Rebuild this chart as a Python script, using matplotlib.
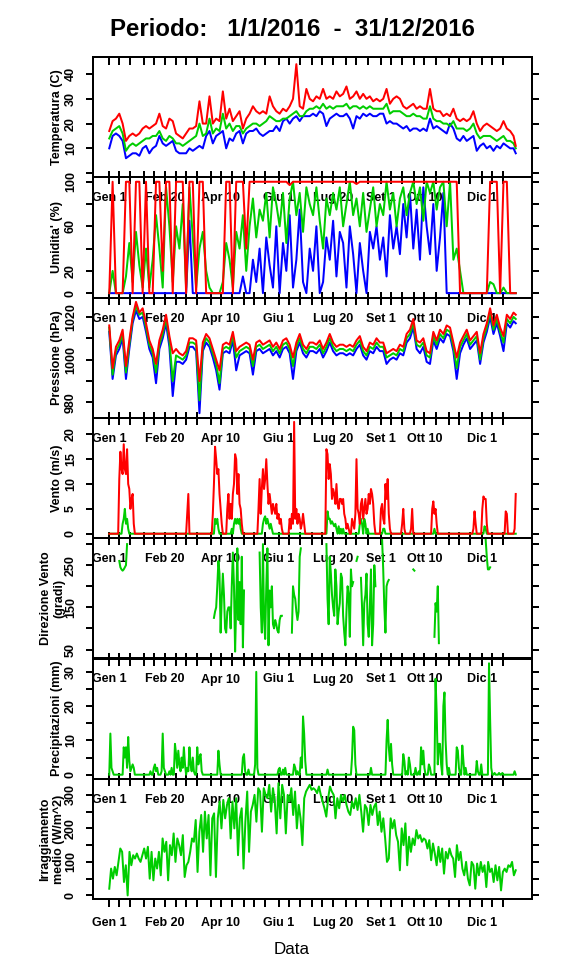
import numpy as np
import matplotlib
matplotlib.use('Agg')
import matplotlib.pyplot as plt

# ---------------- data (2016, day of year) ----------------
days3 = np.append(np.arange(1, 365, 3), 366)   # readings every 3 days
all_days = np.arange(1, 367)

temp_max = [17, 21, 22, 24, 20, 13, 15, 16, 15, 16,
            18, 19, 18, 19, 20, 24, 19, 18, 22, 21,
            16, 15, 14, 16, 18, 18, 19, 29, 20, 20,
            31, 20, 22, 21, 33, 22, 26, 21, 23, 25,
            18, 22, 24, 27, 25, 24, 25, 24, 31, 27,
            25, 24, 26, 25, 27, 30, 44, 27, 26, 34,
            30, 29, 31, 30, 34, 30, 31, 30, 33, 31,
            32, 35, 30, 31, 33, 30, 32, 30, 31, 29,
            30, 29, 30, 34, 28, 30, 31, 30, 27, 26,
            27, 28, 26, 27, 26, 26, 34, 26, 25, 25,
            23, 24, 23, 26, 22, 21, 22, 21, 22, 25,
            20, 17, 19, 20, 19, 18, 17, 18, 21, 18,
            17, 15, 11]
temp_mean = [14, 17, 18, 19, 16, 9, 11, 12, 11, 12,
             13, 14, 14, 15, 15, 17, 14, 13, 15, 14,
             12, 12, 11, 12, 13, 14, 15, 20, 15, 16,
             22, 16, 18, 17, 24, 18, 20, 17, 19, 19,
             16, 18, 19, 20, 20, 19, 20, 21, 23, 22,
             21, 21, 22, 22, 23, 24, 25, 23, 23, 25,
             26, 26, 27, 26, 28, 26, 27, 26, 27, 27,
             27, 28, 26, 27, 27, 26, 27, 26, 27, 26,
             26, 26, 26, 28, 24, 25, 25, 25, 24, 23,
             23, 24, 23, 23, 22, 22, 27, 22, 21, 21,
             20, 20, 19, 21, 18, 18, 18, 17, 18, 20,
             16, 14, 15, 15, 15, 14, 13, 14, 15, 13,
             13, 12, 10]
temp_min = [10, 15, 16, 15, 13, 6, 7, 8, 8, 7,
            10, 11, 8, 10, 11, 15, 12, 11, 12, 13,
            9, 8, 8, 8, 10, 9, 10, 11, 10, 15,
            17, 12, 15, 16, 17, 10, 14, 13, 16, 17,
            12, 16, 17, 17, 18, 16, 15, 16, 17, 17,
            19, 17, 21, 22, 20, 22, 23, 21, 23, 23,
            23, 24, 23, 25, 24, 19, 22, 23, 24, 23,
            23, 24, 22, 18, 23, 22, 24, 23, 24, 23,
            23, 24, 24, 20, 21, 20, 20, 19, 18, 19,
            17, 18, 18, 17, 18, 17, 22, 18, 19, 18,
            17, 16, 20, 18, 14, 13, 15, 13, 14, 15,
            9, 11, 12, 10, 11, 9, 11, 10, 12, 11,
            10, 10, 8]

hum_max = [0, 100, 0, 0, 0, 100, 100, 0, 100, 100,
           0, 100, 0, 0, 100, 100, 20, 100, 100, 0,
           100, 100, 100, 0, 100, 100, 0, 100, 100, 0,
           0, 0, 0, 0, 0, 100, 100, 0, 100, 100,
           100, 40, 100, 100, 100, 100, 100, 100, 100, 100,
           100, 100, 100, 100, 97, 100, 100, 100, 100, 100,
           100, 100, 100, 100, 100, 100, 100, 100, 100, 100,
           100, 100, 100, 100, 98, 100, 100, 100, 100, 100,
           100, 100, 100, 100, 100, 100, 100, 100, 100, 100,
           100, 100, 100, 100, 100, 100, 100, 100, 100, 100,
           100, 100, 100, 100, 100, 0, 0, 0, 0, 0,
           0, 0, 0, 0, 100, 100, 100, 0, 100, 100,
           0, 0, 0]
hum_mean = [0, 20, 0, 0, 0, 15, 45, 10, 55, 25,
            5, 40, 5, 30, 70, 40, 5, 95, 60, 10,
            60, 40, 80, 5, 95, 50, 5, 40, 55, 20,
            5, 0, 0, 0, 10, 45, 30, 5, 55, 40,
            70, 20, 60, 85, 50, 75, 65, 90, 50, 95,
            80, 60, 90, 45, 85, 100, 70, 90, 55, 95,
            80, 70, 95, 65, 40, 85, 70, 90, 75, 95,
            60, 80, 100, 70, 85, 60, 90, 55, 75, 95,
            60, 80, 70, 100, 75, 90, 60, 85, 95, 70,
            90, 100, 80, 95, 65, 100, 90, 100, 75, 95,
            100, 60, 100, 30, 40, 20, 0, 0, 0, 0,
            0, 0, 0, 0, 10, 8, 0, 0, 5, 0,
            0, 0, 0]
hum_min = [0, 0, 0, 0, 0, 0, 0, 0, 0, 0,
           0, 0, 0, 0, 0, 0, 0, 0, 0, 0,
           0, 0, 0, 0, 65, 0, 0, 0, 0, 0,
           0, 0, 0, 0, 0, 0, 0, 0, 0, 0,
           15, 0, 0, 30, 10, 40, 0, 50, 25, 5,
           60, 0, 45, 20, 70, 5, 30, 75, 10, 0,
           40, 20, 60, 0, 10, 50, 30, 65, 15, 55,
           45, 5, 60, 35, 0, 45, 20, 0, 55, 40,
           60, 30, 50, 15, 70, 40, 60, 35, 80, 50,
           90, 40, 75, 30, 95, 60, 35, 80, 20, 50,
           90, 0, 0, 0, 0, 0, 0, 0, 0, 0,
           0, 0, 0, 0, 0, 0, 0, 0, 0, 0,
           0, 0, 0]

pres_max = [1016, 996, 1006, 1009, 1014, 997, 1009, 1020, 1027, 1022,
            1024, 1017, 1009, 1005, 998, 1009, 1014, 1021, 1011, 1003,
            1005, 1003, 1002, 1004, 1010, 1010, 1009, 990, 1008, 1012,
            1010, 1005, 1000, 995, 1007, 1008, 1007, 1013, 1004, 1006,
            1007, 1008, 1007, 1000, 1008, 1009, 1007, 1008, 1009, 1006,
            1008, 1005, 1009, 1010, 1007, 1001, 1008, 1012, 1007, 1005,
            1008, 1008, 1007, 1009, 1005, 1008, 1012, 1008, 1006, 1007,
            1007, 1006, 1007, 1006, 1009, 1011, 1006, 1004, 1008, 1007,
            1010, 1008, 1008, 1003, 1004, 1005, 1004, 1007, 1006, 1012,
            1014, 1019, 1009, 1008, 1010, 1004, 1003, 1013, 1009, 1014,
            1012, 1016, 1015, 1008, 1001, 1008, 1011, 1014, 1009, 1011,
            1013, 1003, 1012, 1017, 1024, 1016, 1021, 1015, 1011, 1021,
            1019, 1022, 1021]
pres_mean = [1015, 993, 1004, 1007, 1012, 994, 1007, 1019, 1025, 1021,
             1022, 1015, 1007, 1003, 994, 1007, 1012, 1019, 1009, 990,
             1002, 1001, 1000, 1002, 1008, 1008, 1007, 981, 1006, 1010,
             1008, 1003, 998, 989, 1005, 1006, 1005, 1011, 1001, 1004,
             1005, 1006, 1005, 997, 1006, 1007, 1005, 1006, 1007, 1004,
             1006, 1003, 1007, 1008, 1005, 997, 1006, 1010, 1005, 1003,
             1006, 1006, 1005, 1007, 1003, 1006, 1010, 1006, 1004, 1005,
             1005, 1004, 1005, 1004, 1007, 1009, 1004, 1002, 1006, 1005,
             1008, 1006, 1006, 1001, 1002, 1003, 1002, 1005, 1004, 1010,
             1012, 1017, 1007, 1006, 1008, 1002, 1001, 1011, 1007, 1012,
             1010, 1014, 1013, 1006, 996, 1006, 1009, 1012, 1007, 1009,
             1011, 1000, 1010, 1015, 1022, 1014, 1019, 1013, 1008, 1019,
             1017, 1020, 1019]
pres_min = [1013, 991, 1002, 1005, 1010, 991, 1005, 1017, 1023, 1019,
            1020, 1013, 1005, 1001, 989, 1005, 1010, 1017, 1006, 983,
            999, 999, 998, 1000, 1006, 1006, 1004, 975, 1004, 1008,
            1006, 1001, 995, 986, 1003, 1004, 1003, 1009, 995, 1002,
            1003, 1004, 1003, 993, 1004, 1005, 1003, 1004, 1005, 1002,
            1004, 1001, 1005, 1006, 1003, 991, 1004, 1008, 1003, 1001,
            1004, 1004, 1003, 1005, 1001, 1004, 1008, 1004, 1002, 1003,
            1003, 1002, 1003, 1002, 1005, 1007, 1002, 1000, 1004, 1003,
            1006, 1004, 1004, 998, 1000, 1001, 1000, 1003, 1002, 1008,
            1010, 1015, 1005, 1003, 1006, 999, 998, 1009, 1005, 1010,
            1008, 1012, 1011, 1004, 991, 1003, 1007, 1010, 1005, 1007,
            1009, 998, 1008, 1013, 1020, 1012, 1017, 1011, 1004, 1017,
            1015, 1018, 1017]

# wind: windy spells, {first day: daily values}; calm (0) elsewhere
wind_max_spells = {
    10: [11, 16.5, 13, 12, 18, 13, 12, 17, 10, 9, 5, 7, 8, 2],
    71: [4, 8],
    94: [4, 10, 17.5, 15, 12, 13, 8, 5, 2],
    107: [5, 8, 3, 6, 3, 8, 10, 16, 15, 8, 12, 6, 5, 2],
    135: [5, 11, 4, 9, 13, 9, 11, 15, 10, 6, 8, 6, 4, 6, 5, 4, 6, 3, 4, 2, 3, 1],
    163: [3, 1, 4, 2, 22.5, 3, 5, 2, 4, 3, 1, 2, 4, 2],
    196: [17, 16, 11, 14, 12, 7, 9, 8, 6, 10, 6, 5, 7, 7, 6, 7, 4, 3, 1, 2, 1],
    219: [3, 2, 1, 4, 15, 5, 4, 2, 6, 7, 3, 5, 7, 4, 5, 8, 6, 9, 8, 6, 2],
    245: [5, 6, 3, 2, 10, 7, 11, 4, 1],
    264: [2, 5, 1],
    272: [1, 5],
    291: [5, 6.5, 4, 5, 2],
    328: [1, 4.5, 2],
    336: [5, 7.5, 7, 7, 2],
    357: [4.5, 4],
    365: [1, 8],
}
wind_mean_spells = {
    13: [2, 3, 5, 2, 3, 1],
    96: [3, 2, 3, 1],
    111: [1, 0, 2, 3, 2, 3, 2, 3, 1],
    139: [2, 3, 3.5, 2, 3, 2, 1, 2, 1],
    197: [4.5, 3, 3, 2, 2.5, 2, 1.5, 2, 1, 0, 1.5, 0, 1, 0, 1],
    226: [2, 3, 2, 0, 3, 2, 0, 1],
    247: [1, 1],
    293: [1],
    338: [1.5, 1],
}

# wind direction (degrees), only on windy days
dir_spells = {
    10: [260, 245, 240, 237, 240, 245, 250, 300],
    95: [125, 140, 150, 200, 260, 230, 90, 170, 230, 180, 100, 90, 140, 150,
         150, 100, 200, 280, 200, 45, 160, 290, 120, 210, 110, 270, 55, 190],
    136: [280, 150, 90, 300, 120, 75, 200, 290, 60, 190, 150, 200, 110, 100,
          120, 110, 95, 90, 120, 130, 130],
    165: [90, 200, 180, 170, 140, 120, 140, 270, 290],
    196: [300, 170, 110, 270, 230, 180, 150, 130, 240, 200, 110, 140, 160, 230,
          220, 130, 90, 60, 140, 200, 180, 80, 240, 200, 210],
    223: [260, 270],
    227: [220, 150, 60, 160, 180, 230, 110, 80, 150, 240, 60, 110, 250, 200],
    246: [310, 240, 150, 90, 200, 210, 215],
    274: [240, 237],
    293: [80, 160, 140, 200, 65],
    339: [310, 270, 240, 240, 245],
}

# rain (mm): {day: amount}; dry days are 0
rain_days = {
    2: 12, 3: 2, 4: 1, 14: 8, 15: 5, 16: 8, 17: 2, 18: 11, 19: 4, 20: 1,
    21: 2, 22: 3, 23: 2, 38: 1, 41: 2, 42: 3, 43: 1, 44: 2, 48: 1, 49: 12,
    50: 2, 51: 1, 55: 1, 57: 2, 60: 9, 61: 6, 62: 2, 63: 7, 64: 3, 65: 1,
    66: 5, 67: 2, 68: 8, 69: 3, 71: 2, 72: 1, 73: 8, 74: 3, 75: 1, 76: 5,
    77: 1, 80: 8, 81: 3, 82: 5, 83: 6, 84: 1, 99: 7, 100: 3, 121: 5, 122: 6,
    123: 1, 126: 1.5, 132: 3, 133: 30, 134: 2, 153: 1.5, 154: 2, 157: 1.5,
    159: 2, 167: 3, 168: 2, 170: 1, 173: 5, 174: 2, 175: 17, 176: 12, 177: 4,
    197: 1.5, 219: 5, 220: 14, 221: 13, 222: 3, 236: 2, 250: 10, 251: 16,
    252: 8, 253: 4, 254: 9, 255: 3, 265: 6, 266: 4, 268: 1, 270: 5, 271: 3,
    276: 2, 279: 1, 281: 8, 282: 3, 283: 7, 284: 2, 288: 3, 289: 2, 294: 28,
    295: 18, 296: 3, 297: 9, 298: 9, 299: 3, 301: 20, 302: 24, 303: 10,
    304: 3, 306: 2, 313: 8, 314: 7, 315: 2, 318: 8.5, 319: 4, 321: 2, 331: 4,
    332: 1, 335: 3, 342: 32.5, 343: 16, 344: 2, 347: 0.5, 351: 0.5, 354: 0.5,
    365: 1,
}

irr = [20, 80, 50, 85, 60, 100, 140, 130, 40, 90,
       0, 130, 90, 120, 110, 125, 110, 100, 120, 140,
       110, 145, 50, 130, 45, 110, 80, 130, 60, 170,
       130, 160, 45, 150, 120, 185, 100, 170, 150, 120,
       180, 55, 90, 100, 130, 170, 160, 225, 70, 190,
       240, 130, 250, 170, 240, 60, 230, 245, 55, 230,
       280, 200, 285, 230, 270, 290, 170, 280, 200, 290,
       120, 230, 260, 80, 220, 310, 130, 250, 270, 300,
       220, 320, 310, 190, 320, 300, 290, 330, 250, 320,
       280, 185, 335, 230, 330, 300, 185, 300, 280, 320,
       240, 310, 200, 270, 230, 150, 290, 310, 320, 330,
       315, 320, 315, 305, 325, 300, 280, 260, 235, 290,
       325, 310, 300, 230, 290, 260, 300, 280, 300, 270,
       250, 240, 280, 260, 290, 255, 300, 250, 190, 270,
       260, 210, 270, 240, 265, 275, 210, 250, 190, 230,
       170, 100, 110, 230, 200, 225, 180, 160, 75, 200,
       150, 215, 90, 175, 130, 170, 150, 195, 170, 180,
       160, 170, 165, 140, 165, 105, 155, 125, 90, 145,
       100, 140, 65, 130, 110, 140, 120, 110, 55, 150,
       105, 130, 80, 60, 100, 50, 30, 100, 90, 20,
       95, 60, 100, 70, 90, 25, 100, 70, 80, 40,
       90, 45, 85, 15, 70, 80, 70, 90, 85, 100,
       60, 75]
irr_days = np.linspace(1, 366, len(irr))

month_start = [1, 32, 61, 92, 122, 153, 183, 214, 245, 275, 306, 336]
tick_days = [m + d for m in month_start for d in (0, 9, 19)]
label_days = [1, 51, 101, 153, 202, 245, 284, 336]
label_text = ['Gen 1', 'Feb 20', 'Apr 10', 'Giu 1', 'Lug 20', 'Set 1', 'Ott 10', 'Dic 1']


def from_spells(spells, rest):
    out = np.full(366, rest, dtype=float)
    for start, vals in spells.items():
        out[start - 1:start - 1 + len(vals)] = vals
    return out


wind_max = from_spells(wind_max_spells, 0.0)
wind_mean = from_spells(wind_mean_spells, 0.0)
wind_dir = from_spells(dir_spells, np.nan)
rain = np.zeros(366)
for d, v in rain_days.items():
    rain[d - 1] = v

# ---------------- plot ----------------
plt.rcParams['font.family'] = ['Liberation Sans', 'DejaVu Sans']
plt.rcParams['font.weight'] = 'bold'

RED, GREEN, BLUE = '#FF0000', '#00CD00', '#0000FF'
W, H = 576, 972
LEFT, RIGHT = 93, 532
TOP0, PH = 57, 120.3

# the temperature "0" sits under the humidity "100", so only 10..40 are written
panels = [
    ('Temperatura (C)', (-1.7, 46.9), range(0, 41, 10), [10, 20, 30, 40],
     [(days3, temp_min, BLUE), (days3, temp_mean, GREEN), (days3, temp_max, RED)]),
    ("Umidita' (%)", (-4, 104), range(0, 101, 20), [0, 20, 60, 100],
     [(days3, hum_min, BLUE), (days3, hum_mean, GREEN), (days3, hum_max, RED)]),
    ('Pressione (hPa)', (972.8, 1029), range(980, 1021, 10), [980, 1000, 1020],
     [(days3, pres_min, BLUE), (days3, pres_mean, GREEN), (days3, pres_max, RED)]),
    ('Vento (m/s)', (-0.9, 23.3), range(0, 21, 5), [0, 5, 10, 15, 20],
     [(all_days, wind_mean, GREEN), (all_days, wind_max, RED)]),
    ('Direzione Vento\n(gradi)', (28.7, 314), range(50, 301, 50), [50, 150, 250],
     [(all_days, wind_dir, GREEN)]),
    ('Precipitazioni (mm)', (-1.2, 33.9), range(0, 31, 5), [0, 10, 20, 30],
     [(all_days, rain, GREEN)]),
    ('Irraggiamento\nmedio (W/m^2)', (-11, 348), range(0, 301, 50), [0, 100, 200, 300],
     [(irr_days, irr, GREEN)]),
]

fig = plt.figure(figsize=(W / 72, H / 72), dpi=72)
n = len(panels)
for k, (ylab, ylim, yt, ylabs, series) in enumerate(panels):
    top = TOP0 + k * PH
    ax = fig.add_axes([LEFT / W, 1 - (top + PH) / H, (RIGHT - LEFT) / W, PH / H])
    ax.patch.set_visible(False)
    for sp in ax.spines.values():
        sp.set_linewidth(2)
    for x, y, c in series:
        ax.plot(x, y, color=c, lw=2, solid_joinstyle='round')
    ax.set_xlim(-13.6, 380.6)
    ax.set_ylim(*ylim)

    last = (k == n - 1)
    ax.set_xticks(tick_days)
    ax.tick_params(axis='x', direction='out' if last else 'inout',
                   length=8 if last else 13, width=2, labelbottom=False)
    ax.set_yticks(list(yt))
    ax.tick_params(axis='y', direction='out', length=7, width=2,
                   left=True, right=True, labelleft=False)
    if k == 0:
        sec = ax.secondary_xaxis('top')
        sec.set_xticks(tick_days)
        sec.tick_params(direction='in', length=8, width=2, labeltop=False)
        sec.spines['top'].set_linewidth(2)

    for v in ylabs:
        ax.text(-22 / (RIGHT - LEFT), v, str(v), transform=ax.get_yaxis_transform(),
                rotation=90, ha='center', va='center', fontsize=12.5,
                fontweight='bold', clip_on=False)
    yoff = -23.5 / PH if last else -21 / PH
    for d, t in zip(label_days, label_text):
        ax.text(d, yoff, t, transform=ax.get_xaxis_transform(), ha='center',
                va='center', fontsize=12.5, fontweight='bold', clip_on=False)

    xl = 52.5 if '\n' in ylab else 57
    fig.text(xl / W, 1 - (top + PH / 2) / H, ylab, rotation=90, ha='center',
             va='center', fontsize=12.5, fontweight='bold', linespacing=1.2)

fig.text(292 / W, 1 - 29 / H, 'Periodo:   1/1/2016  -  31/12/2016',
         ha='center', va='center', fontsize=24, fontweight='bold')
fig.text(292 / W, 1 - 950 / H, 'Data', ha='center', va='center',
         fontsize=17, fontweight='normal')

fig.savefig('out.png', dpi=72)
